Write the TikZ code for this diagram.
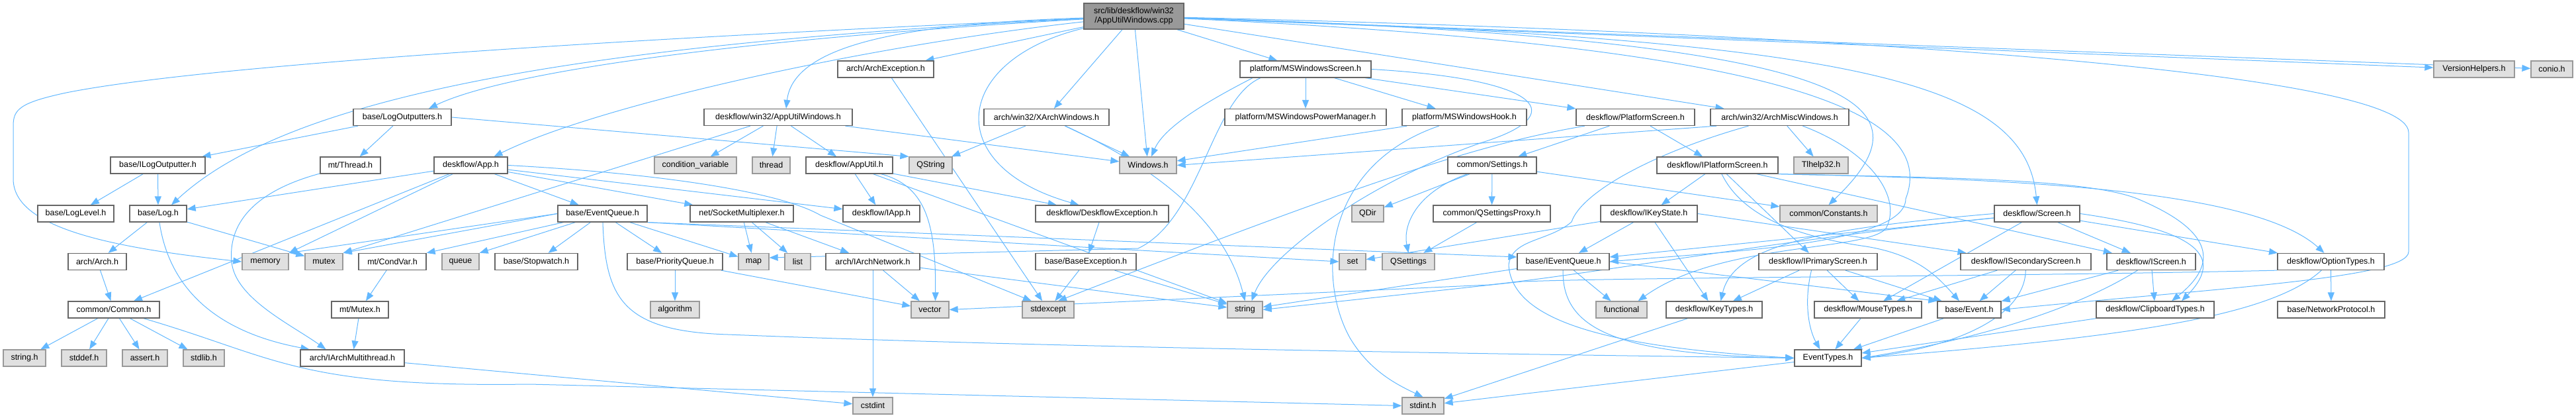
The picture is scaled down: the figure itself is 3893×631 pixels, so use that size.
\documentclass[tikz,border=0pt]{standalone}
\usepackage{fontspec}
\setmainfont{Liberation Sans}
\usetikzlibrary{arrows.meta}
\definecolor{edgecol}{HTML}{63B8FF}
\definecolor{bordercol}{HTML}{666666}
\definecolor{gborder}{HTML}{999999}
\definecolor{gfill}{HTML}{E0E0E0}
\definecolor{rootfill}{HTML}{999999}
\newcommand\nodefont{\fontsize{12.5pt}{14pt}\selectfont}
\pgfdeclarelayer{bg}
\pgfsetlayers{bg,main}
\tikzset{
  nd/.style={draw=bordercol, fill=white, line width=1.3pt, minimum height=25pt, inner sep=0pt, font=\nodefont},
  gn/.style={nd, draw=gborder, fill=gfill},
  rt/.style={nd, fill=rootfill, minimum height=39pt, align=center},
  dep/.style={draw=edgecol, line width=1pt, -{Triangle[length=13pt,width=10pt]}}
}
\begin{document}
\begin{tikzpicture}[x=1pt,y=-1pt]
\useasboundingbox (0,0) rectangle (3893,631);
% row 0
\node[rt, minimum width=151pt] (root) at (1713.5,24.5) {src/lib/deskflow/win32\\/AppUtilWindows.cpp};
% row 1
\node[nd, minimum width=145pt] (archexc) at (1338.5,104.5) {arch/ArchException.h};
\node[nd, minimum width=198pt] (msscreen) at (1973,104.5) {platform/MSWindowsScreen.h};
\node[gn, minimum width=122pt] (versionh) at (3739,104.5) {VersionHelpers.h};
\node[gn, minimum width=63pt] (conio) at (3856.5,104.5) {conio.h};
% row 2
\node[nd, minimum width=148pt] (logout) at (608,177) {base/LogOutputters.h};
\node[nd, minimum width=224pt] (apputilwin) at (1176,177) {deskflow/win32/AppUtilWindows.h};
\node[nd, minimum width=189pt] (xarchwin) at (1581.5,177) {arch/win32/XArchWindows.h};
\node[nd, minimum width=244pt] (mspower) at (1973,177) {platform/MSWindowsPowerManager.h};
\node[nd, minimum width=188pt] (mshook) at (2213,177) {platform/MSWindowsHook.h};
\node[nd, minimum width=179pt] (platscreen) at (2471.5,177) {deskflow/PlatformScreen.h};
\node[nd, minimum width=209pt] (archmisc) at (2689.5,177) {arch/win32/ArchMiscWindows.h};
% row 3
\node[nd, minimum width=143pt] (ilogout) at (238.5,249.5) {base/ILogOutputter.h};
\node[nd, minimum width=91pt] (threadh) at (529.5,249.5) {mt/Thread.h};
\node[nd, minimum width=111pt] (app) at (711.5,249.5) {deskflow/App.h};
\node[gn, minimum width=124pt] (condvar) at (1051,249.5) {condition\_variable};
\node[gn, minimum width=57pt] (thread) at (1165.5,249.5) {thread};
\node[nd, minimum width=131pt] (apputil) at (1283.5,249.5) {deskflow/AppUtil.h};
\node[gn, minimum width=65pt] (qstring) at (1406.5,249.5) {QString};
\node[gn, minimum width=86pt] (windows) at (1735,249.5) {Windows.h};
\node[nd, minimum width=134pt] (settings) at (2255,249.5) {common/Settings.h};
\node[nd, minimum width=183pt] (iplatscreen) at (2595.5,249.5) {deskflow/IPlatformScreen.h};
\node[gn, minimum width=82pt] (tlhelp) at (2752,249.5) {Tlhelp32.h};
% row 4
\node[nd, minimum width=115pt] (loglevel) at (114.5,322.5) {base/LogLevel.h};
\node[nd, minimum width=86pt] (log) at (239,322.5) {base/Log.h};
\node[nd, minimum width=135pt] (eventqueue) at (910.5,322.5) {base/EventQueue.h};
\node[nd, minimum width=156pt] (sockmux) at (1121,322.5) {net/SocketMultiplexer.h};
\node[nd, minimum width=116pt] (iapp) at (1332,322.5) {deskflow/IApp.h};
\node[nd, minimum width=201pt] (dfexc) at (1665.5,322.5) {deskflow/DeskflowException.h};
\node[gn, minimum width=48pt] (qdir) at (2067,322.5) {QDir};
\node[nd, minimum width=177pt] (qsetproxy) at (2254.5,322.5) {common/QSettingsProxy.h};
\node[nd, minimum width=146pt] (ikeystate) at (2492,322.5) {deskflow/IKeyState.h};
\node[gn, minimum width=147pt] (constants) at (2763.5,322.5) {common/Constants.h};
\node[nd, minimum width=129pt] (screen) at (3078.5,322.5) {deskflow/Screen.h};
% row 5
\node[nd, minimum width=88pt] (arch) at (147,395) {arch/Arch.h};
\node[gn, minimum width=70pt] (memory) at (401,395) {memory};
\node[gn, minimum width=57pt] (mutex) at (489.5,395) {mutex};
\node[nd, minimum width=102pt] (condvarh) at (593,395) {mt/CondVar.h};
\node[gn, minimum width=56pt] (queue) at (696,395) {queue};
\node[nd, minimum width=125pt] (stopwatch) at (810.5,395) {base/Stopwatch.h};
\node[nd, minimum width=144pt] (prioq) at (1020,395) {base/PriorityQueue.h};
\node[gn, minimum width=46pt] (map) at (1139,395) {map};
\node[gn, minimum width=39pt] (list) at (1205.5,395) {list};
\node[nd, minimum width=142pt] (iarchnet) at (1319,395) {arch/IArchNetwork.h};
\node[nd, minimum width=152pt] (baseexc) at (1641,395) {base/BaseException.h};
\node[gn, minimum width=40pt] (set) at (2044,395) {set};
\node[gn, minimum width=79pt] (qsettings) at (2128.5,395) {QSettings};
\node[nd, minimum width=139pt] (ieventqueue) at (2362.5,395) {base/IEventQueue.h};
\node[nd, minimum width=179pt] (iprimary) at (2747.5,395) {deskflow/IPrimaryScreen.h};
\node[nd, minimum width=197pt] (isecondary) at (3061.5,395) {deskflow/ISecondaryScreen.h};
\node[nd, minimum width=134pt] (iscreen) at (3251,395) {deskflow/IScreen.h};
\node[nd, minimum width=161pt] (optiontypes) at (3522.5,395) {deskflow/OptionTypes.h};
% row 6
\node[nd, minimum width=138pt] (common) at (172,467.5) {common/Common.h};
\node[nd, minimum width=86pt] (mutexh) at (544,467.5) {mt/Mutex.h};
\node[gn, minimum width=74pt] (algorithm) at (1020,467.5) {algorithm};
\node[gn, minimum width=57pt] (vector) at (1405.5,467.5) {vector};
\node[gn, minimum width=78pt] (stdexcept) at (1584,467.5) {stdexcept};
\node[gn, minimum width=53pt] (string) at (1881.5,467.5) {string};
\node[gn, minimum width=77pt] (functional) at (2450.5,467.5) {functional};
\node[nd, minimum width=145pt] (keytypes) at (2590.5,467.5) {deskflow/KeyTypes.h};
\node[nd, minimum width=162pt] (mousetypes) at (2823,467.5) {deskflow/MouseTypes.h};
\node[nd, minimum width=96pt] (event) at (2976,467.5) {base/Event.h};
\node[nd, minimum width=178pt] (cliptypes) at (3257,467.5) {deskflow/ClipboardTypes.h};
\node[nd, minimum width=162pt] (netproto) at (3523,467.5) {base/NetworkProtocol.h};
% row 7
\node[gn, minimum width=64pt] (stringh) at (37,540.5) {string.h};
\node[gn, minimum width=68pt] (stddef) at (127,540.5) {stddef.h};
\node[gn, minimum width=68pt] (assert) at (219,540.5) {assert.h};
\node[gn, minimum width=62pt] (stdlib) at (308,540.5) {stdlib.h};
\node[nd, minimum width=157pt] (iarchmt) at (532.5,540.5) {arch/IArchMultithread.h};
\node[nd, minimum width=101pt] (eventtypes) at (2762.5,540.5) {EventTypes.h};
% row 8
\node[gn, minimum width=60pt] (cstdint) at (1319,612.5) {cstdint};
\node[gn, minimum width=63pt] (stdint) at (2150.5,612.5) {stdint.h};

\begin{pgfonlayer}{bg}
% ---- root
\draw[dep] (root) .. controls (900,60) and (300,100) .. (100,140) .. controls (30,155) and (20,165) .. (20,190) -- (20,270) .. controls (20,340) and (150,372) .. (memory.west);
\draw[dep] (root) .. controls (800,70) and (420,160) .. ([xshift=20pt]log.north);
\draw[dep] (root) .. controls (1100,60) and (760,110) .. ([xshift=40pt]logout.north);
\draw[dep] (root) .. controls (1300,70) and (900,160) .. ([xshift=35pt]app.north);
\draw[dep] (root) .. controls (1400,35) and (1200,60) .. ([xshift=12pt]apputilwin.north);
\draw[dep] (root) .. controls (1440,90) and (1420,250) .. ([xshift=-35pt]dfexc.north);
\draw[dep] (root) -- ([xshift=60pt]archexc.north);
\draw[dep] (root) -- (xarchwin);
\draw[dep] (root) -- (windows);
\draw[dep] (root) -- (msscreen);
\draw[dep] (root) -- (archmisc);
\draw[dep] (root) -- (versionh);
\draw[dep] (root) -- (conio);
\draw[dep] (root) .. controls (2850,60) and (2920,160) .. (constants.north);
\draw[dep] (root) .. controls (2800,60) and (3060,120) .. (screen.north);
\draw[dep] (root) .. controls (2700,70) and (2930,170) .. (2880,300) .. controls (2880,370) and (2600,380) .. (ieventqueue.east);
\draw[dep] (root) .. controls (2800,50) and (3640,110) .. (3640,200) -- (3640,380) .. controls (3640,420) and (3350,435) .. (event.east);
% ---- LogOutputters
\draw[dep] (logout) -- (ilogout);
\draw[dep] (logout) -- (threadh);
\draw[dep] (logout.east) -- (qstring.north west);
\draw[dep] (ilogout) -- (loglevel);
\draw[dep] (ilogout) -- (log);
\draw[dep] (threadh) .. controls (380,290) and (345,340) .. (350,395) .. controls (355,450) and (440,490) .. ([xshift=-40pt]iarchmt.north);
% ---- Log
\draw[dep] (log) -- (arch);
\draw[dep] (log) -- (mutex);
\draw[dep] (log) .. controls (255,430) and (320,500) .. ([xshift=-65pt]iarchmt.north);
\draw[dep] (arch) -- (common);
\draw[dep] (common) -- (stringh);
\draw[dep] (common) -- (stddef);
\draw[dep] (common) -- (assert);
\draw[dep] (common) -- (stdlib);
\draw[dep] (common) .. controls (420,540) and (450,585) .. (800,580) -- (stdint.west);
\draw[dep] (iarchmt) -- (cstdint);
% ---- App
\draw[dep] (app) -- (log);
\draw[dep] (app) -- ([xshift=30pt]common.north);
\draw[dep] (app) -- (memory.north east);
\draw[dep] (app) -- (eventqueue);
\draw[dep] (app) -- (sockmux);
\draw[dep] (app) -- (iapp);
\draw[dep] (app.east) .. controls (1000,262) and (1180,290) .. (1240,325) -- ([xshift=-25pt]stdexcept.north);
% ---- AppUtilWindows
\draw[dep] (apputilwin) -- (condvar);
\draw[dep] (apputilwin) -- (thread);
\draw[dep] (apputilwin) -- (apputil);
\draw[dep] (apputilwin) -- (mutex.north east);
\draw[dep] (apputilwin) -- (windows);
% ---- AppUtil
\draw[dep] (apputil) -- (iapp);
\draw[dep] (apputil) .. controls (1395,280) and (1415,330) .. ([xshift=8pt]vector.north);
\draw[dep] (apputil) -- (dfexc);
\draw[dep] (apputil) -- (string);
% ---- ArchException / XArchWindows
\draw[dep] (archexc) -- (stdexcept);
\draw[dep] (xarchwin) -- (qstring);
\draw[dep] (xarchwin) -- (windows);
\draw[dep] (xarchwin) .. controls (1740,250) and (1850,330) .. (string.north);
% ---- MSWindowsScreen
\draw[dep] ([xshift=-80pt]msscreen.south) .. controls (1830,150) and (1760,190) .. ([xshift=5pt]windows.north);
\draw[dep] (msscreen) -- (mspower);
\draw[dep] (msscreen) -- (mshook);
\draw[dep] (msscreen) -- (platscreen);
\draw[dep] ([xshift=-68pt]msscreen.south) .. controls (1830,150) and (1815,330) .. (1720,375) -- ([yshift=6pt]map.east);
\draw[dep] (msscreen.east) .. controls (2340,120) and (2370,175) .. (2240,215) .. controls (2080,270) and (1920,380) .. ([xshift=10pt]string.north);
% ---- MSWindowsHook
\draw[dep] (mshook) -- (windows);
\draw[dep] (mshook) .. controls (2000,250) and (1990,420) .. (2040,510) .. controls (2070,560) and (2110,580) .. (stdint.north);
% ---- PlatformScreen
\draw[dep] (platscreen) -- (iplatscreen);
\draw[dep] (platscreen) -- (settings);
\draw[dep] (platscreen) .. controls (2250,215) and (2100,260) .. ([xshift=15pt]stdexcept.north);
% ---- ArchMiscWindows
\draw[dep] ([xshift=10pt]archmisc.south west) -- (windows.east);
\draw[dep] (archmisc) -- (tlhelp);
\draw[dep] (archmisc) .. controls (2500,230) and (2390,290) .. (2375,335) .. controls (2340,365) and (2285,360) .. (2280,400) .. controls (2285,490) and (2450,525) .. (eventtypes.west);
\draw[dep] (archmisc) .. controls (2830,230) and (2875,300) .. (2850,345) .. controls (2820,380) and (2600,365) .. ([xshift=25pt]functional.north);
% ---- Settings
\draw[dep] (settings) -- (qdir);
\draw[dep] (settings) -- (qsetproxy);
\draw[dep] (settings) .. controls (2140,290) and (2120,340) .. (qsettings.north);
\draw[dep] (settings) -- (constants);
\draw[dep] (qsetproxy) -- (qsettings);
% ---- IPlatformScreen
\draw[dep] (iplatscreen) -- (ikeystate);
\draw[dep] (iplatscreen) -- (iprimary);
\draw[dep] (iplatscreen) .. controls (2630,320) and (2700,355) .. (2820,372) .. controls (2900,385) and (2930,420) .. ([xshift=-15pt]event.north);
\draw[dep] (iplatscreen) -- (iscreen);
\draw[dep] (iplatscreen.south east) .. controls (2900,268) and (3150,268) .. (3230,300) .. controls (3350,350) and (3350,400) .. ([xshift=25pt]cliptypes.north);
\draw[dep] (iplatscreen.south east) .. controls (3000,270) and (3400,280) .. ([xshift=-10pt]optiontypes.north);
% ---- IKeyState
\draw[dep] (ikeystate) -- (ieventqueue);
\draw[dep] (ikeystate) -- (keytypes);
\draw[dep] (ikeystate) -- (set);
\draw[dep] (ikeystate.east) -- ([xshift=-90pt]isecondary.north);
% ---- IEventQueue
\draw[dep] (ieventqueue) -- (functional);
\draw[dep] (ieventqueue.east) -- (event.north west);
\draw[dep] (ieventqueue) -- (string);
\draw[dep] (ieventqueue) .. controls (2360,500) and (2450,535) .. (eventtypes.west);
% ---- Screen
\draw[dep] (screen) -- (iscreen);
\draw[dep] (screen) -- (mousetypes);
\draw[dep] (screen.east) .. controls (3300,345) and (3370,380) .. ([xshift=40pt]cliptypes.north);
\draw[dep] (screen) -- (optiontypes);
\draw[dep] (screen) -- (ieventqueue);
\draw[dep] (screen) .. controls (2700,360) and (2400,415) .. (2250,430) -- (vector.east);
\draw[dep] (screen.west) .. controls (2750,345) and (2620,370) .. ([xshift=10pt]keytypes.north);
% ---- IScreen
\draw[dep] (iscreen) -- (cliptypes);
\draw[dep] (iscreen) -- (event);
\draw[dep] (iscreen) .. controls (3180,440) and (3060,500) .. (eventtypes.east);
% ---- ISecondaryScreen
\draw[dep] (isecondary) -- (mousetypes);
\draw[dep] (isecondary) -- (event);
\draw[dep] (isecondary) .. controls (3060,480) and (2950,525) .. (eventtypes.east);
% ---- IPrimaryScreen
\draw[dep] (iprimary) -- (keytypes);
\draw[dep] (iprimary) -- (mousetypes);
\draw[dep] (iprimary) -- (event);
\draw[dep] ([xshift=-10pt]iprimary.south) .. controls (2725,460) and (2735,500) .. ([xshift=-12pt]eventtypes.north);
% ---- OptionTypes / Clipboard
\draw[dep] (optiontypes) -- (netproto);
\draw[dep] (optiontypes.south west) .. controls (3000,418) and (2500,418) .. (2300,425) -- (string.east);
\draw[dep] (optiontypes) .. controls (3430,480) and (3200,510) .. (eventtypes.east);
\draw[dep] (cliptypes) -- (eventtypes);
% ---- leaves
\draw[dep] (keytypes) -- (stdint);
\draw[dep] (mousetypes) -- (eventtypes);
\draw[dep] (event) -- (eventtypes);
\draw[dep] (eventtypes) -- (stdint);
% ---- EventQueue
\draw[dep] (eventqueue.west) -- (memory.north east);
\draw[dep] (eventqueue.west) -- (mutex.north east);
\draw[dep] (eventqueue) -- (condvarh.north east);
\draw[dep] (eventqueue) -- (queue.north east);
\draw[dep] (eventqueue) -- (stopwatch);
\draw[dep] (eventqueue) -- (prioq);
\draw[dep] (eventqueue) -- (map);
\draw[dep] (eventqueue.south east) -- (set.west);
\draw[dep] (eventqueue.south east) -- ([yshift=7pt]ieventqueue.west);
\draw[dep] (eventqueue) .. controls (915,450) and (940,500) .. (1100,505) .. controls (1600,525) and (2300,535) .. (eventtypes.west);
% ---- SocketMultiplexer etc
\draw[dep] (sockmux) -- (map);
\draw[dep] (sockmux) -- (list);
\draw[dep] (sockmux) -- (iarchnet);
\draw[dep] (prioq) -- (algorithm);
\draw[dep] (prioq) -- (vector);
\draw[dep] (iarchnet) -- (vector);
\draw[dep] (iarchnet) -- (cstdint);
\draw[dep] (iarchnet) -- (string);
\draw[dep] (condvarh) -- (mutexh);
\draw[dep] (mutexh) -- (iarchmt);
\draw[dep] (dfexc) -- (baseexc);
\draw[dep] (baseexc) -- (stdexcept);
\draw[dep] (baseexc) -- (string);
\end{pgfonlayer}
\end{tikzpicture}
\end{document}
